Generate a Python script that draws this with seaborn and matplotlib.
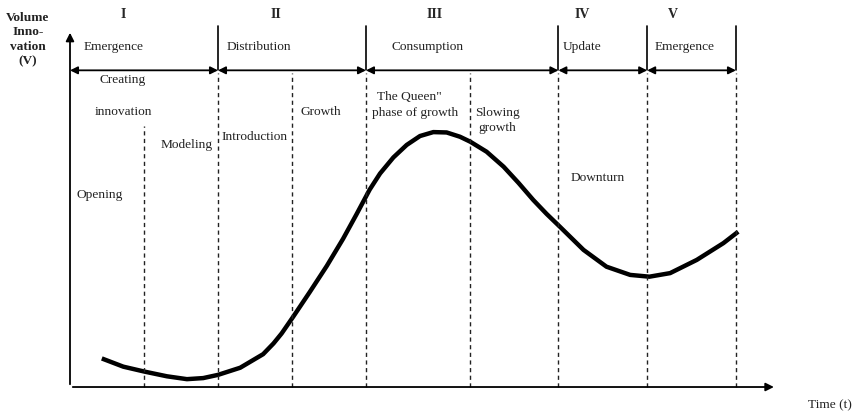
import matplotlib
matplotlib.use("Agg")
import matplotlib.pyplot as plt
import seaborn as sns
import pandas as pd

# curve: time (t) vs volume of innovation (V)
t_vals = [4.3, 7.2, 10.1, 13.1, 15.8, 18.0, 20.0, 23.0, 26.1, 27.5, 28.6, 30.2,
          32.4, 34.7, 36.9, 38.7, 40.5, 41.9, 43.7, 45.5, 47.3, 49.1, 50.9, 52.7,
          54.1, 56.3, 58.6, 60.6, 62.6, 64.4, 66.2, 69.4, 72.5, 75.7, 78.3, 81.1,
          84.7, 88.3, 90.3]
v_vals = [8.0, 5.7, 4.3, 3.0, 2.2, 2.5, 3.4, 5.4, 9.2, 12.2, 15.0, 19.8,
          26.6, 33.9, 41.5, 48.3, 55.3, 59.8, 64.3, 67.8, 70.3, 71.4, 71.3, 70.1,
          68.7, 65.9, 61.7, 57.2, 52.4, 48.5, 44.9, 38.4, 33.7, 31.4, 30.9, 31.9,
          35.6, 40.3, 43.5]

# phase boundaries
dashed_t = [10, 20, 30, 40, 54, 66, 78, 90]
stage_bounds = [0, 20, 40, 66, 78, 90]
numerals = ["I", "II", "III", "IV", "V"]
numeral_t = [7.2, 27.8, 49.3, 69.2, 81.5]
stage_names = ["Emergence", "Distribution", "Consumption", "Update", "Emergence"]
stage_name_t = [1.8, 21.2, 43.4, 66.6, 79.0]

sns.set_style("white")
plt.rcParams['font.family'] = ['Liberation Serif', 'DejaVu Serif']

fig = plt.figure(figsize=(8.54, 4.16), dpi=100)
ax = fig.add_axes([0, 0, 1, 1])
ax.set_xlim(-9.46, 105.95)
ax.set_ylim(-8.12, 108.4)
ax.axis("off")

df = pd.DataFrame({"t": t_vals, "V": v_vals})
sns.lineplot(data=df, x="t", y="V", ax=ax, color="black", linewidth=3.2,
             solid_capstyle="butt", solid_joinstyle="round")

# axes arrows
ax.annotate("", xy=(95.5, 0), xytext=(0, 0),
            arrowprops=dict(arrowstyle="-|>", color="black", lw=1.3, mutation_scale=12))
ax.annotate("", xy=(0, 100), xytext=(0, 0),
            arrowprops=dict(arrowstyle="-|>", color="black", lw=1.3, mutation_scale=12))

# dashed phase lines
for t in dashed_t:
    top = 73 if t == 10 else 88
    ax.plot([t, t], [0, top], color="#222222", lw=1.0, ls=(0, (3, 2.5)))

# solid stage bars and double arrows
for t in stage_bounds[1:]:
    ax.plot([t, t], [88.7, 101], color="black", lw=1.2)
for a, b in zip(stage_bounds[:-1], stage_bounds[1:]):
    ax.annotate("", xy=(b, 88.7), xytext=(a, 88.7),
                arrowprops=dict(arrowstyle="<|-|>", color="black", lw=1.3,
                                mutation_scale=11, shrinkA=0, shrinkB=0))

for t, s in zip(numeral_t, numerals):
    ax.text(t, 104.2, s, ha="center", va="center", fontsize=10, fontweight="bold")
for t, s in zip(stage_name_t, stage_names):
    ax.text(t, 95.2, s, ha="left", va="center", fontsize=9.6, color="#222222")

labels = [
    (4.05, 86.0, "Creating"),
    (3.4, 77.0, "innovation"),
    (12.2, 67.8, "Modeling"),
    (20.5, 70.1, "Introduction"),
    (31.2, 77.0, "Growth"),
    (41.5, 81.2, "The Queen\""),
    (40.8, 76.8, "phase of growth"),
    (54.7, 76.8, "Slowing"),
    (55.2, 72.5, "growth"),
    (67.6, 58.5, "Downturn"),
    (0.9, 53.8, "Opening"),
    (99.7, -5.0, "Time (t)"),
]
for t, v, s in labels:
    ax.text(t, v, s, ha="left", va="center", fontsize=9.6, color="#222222")

ax.text(-5.7, 97.3, "Volume\nInno-\nvation\n(V)", ha="center", va="center",
        fontsize=9.6, fontweight="bold", linespacing=1.3, color="#222222")

fig.savefig("out.png", dpi=100)
